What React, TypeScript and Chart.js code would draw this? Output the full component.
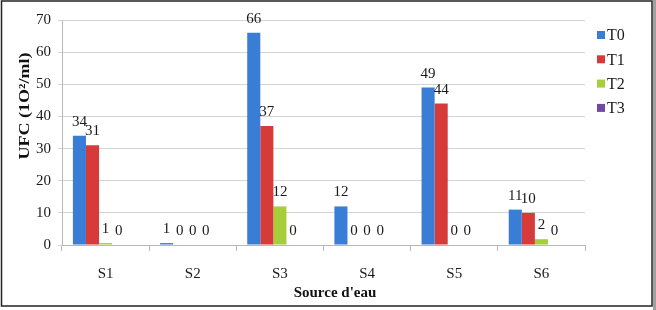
import React, { useEffect, useRef } from "react";
import { Chart, registerables } from "chart.js";
Chart.register(...registerables);

const categories = ["S1", "S2", "S3", "S4", "S5", "S6"];
const seriesNames = ["T0", "T1", "T2", "T3"];
const seriesColors = ["#3a7dd6", "#d63b39", "#a6cd3a", "#7147a8"];
const t0Values = [34, 0.6, 66, 12, 49, 11];
const t1Values = [31, 0, 37, 0, 44, 10];
const t2Values = [0.6, 0, 12, 0, 0, 1.8];
const t3Values = [0, 0, 0, 0, 0, 0];
const spacerValues = [null, null, null, null, null, null];
const yMin = 0;
const yMax = 70;
const yStep = 10;
const xTitle = "Source d'eau";
const yTitle = "UFC (1O²/ml)";

const SERIF = "'Liberation Serif', 'Times New Roman', serif";

const decorPlugin = {
  id: "decor",
  beforeDraw(chart: any) {
    const ctx = chart.ctx;
    ctx.save();
    ctx.fillStyle = "#ffffff";
    ctx.fillRect(0, 0, chart.width, chart.height);
    ctx.restore();
  },
  afterDraw(chart: any) {
    const ctx = chart.ctx;
    ctx.save();
    // value labels
    ctx.fillStyle = "#1a1a1a";
    ctx.font = `15px ${SERIF}`;
    ctx.textAlign = "center";
    ctx.textBaseline = "alphabetic";
    chart.data.datasets.forEach((ds: any, di: number) => {
      if (di >= seriesNames.length) return;
      const meta = chart.getDatasetMeta(di);
      meta.data.forEach((bar: any, i: number) => {
        const v = ds.data[i];
        if (v === null || v === undefined) return;
        ctx.fillText(String(Math.round(v)), bar.x, bar.y - 10);
      });
    });
    // legend
    ctx.textAlign = "left";
    ctx.textBaseline = "middle";
    ctx.font = `16px ${SERIF}`;
    seriesNames.forEach((name, i) => {
      const y = 35 + i * 24.3;
      ctx.fillStyle = seriesColors[i];
      ctx.fillRect(597, y - 4, 8, 8);
      ctx.fillStyle = "#1a1a1a";
      ctx.fillText(name, 607, y + 1);
    });
    // axis titles
    ctx.font = `bold 15px ${SERIF}`;
    ctx.textAlign = "center";
    ctx.fillStyle = "#111";
    ctx.fillText(xTitle, 335, 293);
    ctx.save();
    ctx.translate(25, 106);
    ctx.rotate(-Math.PI / 2);
    const w = ctx.measureText(yTitle).width;
    ctx.scale(107 / w, 1);
    ctx.fillText(yTitle, 0, 0);
    ctx.restore();
    // frame
    ctx.strokeStyle = "#222";
    ctx.lineWidth = 1.5;
    ctx.strokeRect(1.5, 1, 650.5, 305);
    ctx.fillStyle = "#a0a0a0";
    ctx.fillRect(653, 0, 3, 310);
    ctx.restore();
  },
};

export default function App() {
  const ref = useRef<HTMLCanvasElement | null>(null);
  useEffect(() => {
    if (!ref.current) return;
    const allSeries = [t0Values, t1Values, t2Values, t3Values];
    const datasets: any[] = allSeries.map((vals, i) => ({
      label: seriesNames[i],
      data: vals,
      backgroundColor: seriesColors[i],
      borderWidth: 0,
      categoryPercentage: 0.75,
      barPercentage: 1,
    }));
    datasets.push({
      label: "",
      data: spacerValues,
      backgroundColor: "rgba(0,0,0,0)",
      borderWidth: 0,
      categoryPercentage: 0.75,
      barPercentage: 1,
    });
    const chart = new Chart(ref.current, {
      type: "bar",
      data: { labels: categories, datasets },
      options: {
        responsive: false,
        animation: false,
        layout: { padding: { left: 0, top: 20, right: 71, bottom: 0 } },
        plugins: { legend: { display: false }, tooltip: { enabled: false } },
        scales: {
          x: {
            afterFit(scale: any) {
              scale.height = 65;
            },
            grid: {
              offset: true,
              drawOnChartArea: false,
              drawTicks: true,
              tickLength: 6,
              color: "#b8b8b8",
            },
            border: { color: "#b8b8b8", width: 1 },
            ticks: {
              padding: 14,
              color: "#1a1a1a",
              font: { family: SERIF, size: 15 },
            },
          },
          y: {
            min: yMin,
            max: yMax,
            afterFit(scale: any) {
              scale.width = 62;
            },
            grid: {
              color: "#d4d4d4",
              drawTicks: true,
              tickLength: 4,
            },
            border: { color: "#b8b8b8", width: 1 },
            ticks: {
              stepSize: yStep,
              padding: 7,
              color: "#1a1a1a",
              font: { family: SERIF, size: 15 },
            },
          },
        },
      },
      plugins: [decorPlugin],
    });
    return () => chart.destroy();
  }, []);
  return (
    <div style={{ position: "absolute", left: 0, top: 0, width: 656, height: 310 }}>
      <canvas ref={ref} width={656} height={310} style={{ display: "block" }} />
    </div>
  );
}
